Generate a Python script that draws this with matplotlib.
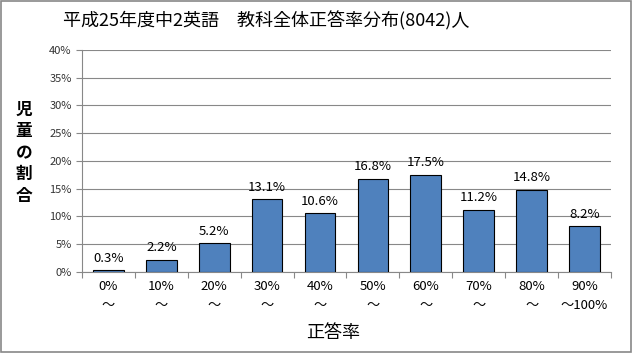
import matplotlib.pyplot as plt
from matplotlib.patches import Rectangle
import numpy as np

plt.rcParams['font.family'] = ['Noto Sans CJK JP', 'DejaVu Sans']

categories = ['0%\n～', '10%\n～', '20%\n～', '30%\n～', '40%\n～',
              '50%\n～', '60%\n～', '70%\n～', '80%\n～', '90%\n～100%']
values = [0.3, 2.2, 5.2, 13.1, 10.6, 16.8, 17.5, 11.2, 14.8, 8.2]
y_ticks = [0, 5, 10, 15, 20, 25, 30, 35, 40]
title = '平成25年度中2英語　教科全体正答率分布(8042)人'


def main():
    fig = plt.figure(figsize=(6.33, 3.53), dpi=100)
    axes = fig.add_axes([0.1295, 0.2295, 0.8357, 0.629])

    x = np.arange(len(values))
    axes.bar(x, values, width=0.58, color='#4F81BD', edgecolor='black', linewidth=0.8, zorder=3)
    for xi, v in zip(x, values):
        axes.text(xi, v + 1.0, f'{v:.1f}%', ha='center', va='bottom', fontsize=9.5, color='black')

    axes.set_xlim(-0.5, len(values) - 0.5)
    axes.set_ylim(0, 40)
    axes.set_yticks(y_ticks)
    axes.set_yticklabels([f'{t}%' for t in y_ticks], fontsize=8, color='#333333')
    axes.yaxis.grid(True, color='#888888', linewidth=0.8, zorder=0)
    axes.set_axisbelow(True)

    axes.set_xticks(np.arange(-0.5, len(values), 1.0), minor=False)
    axes.set_xticklabels([])
    axes.set_xticks(x, minor=True)
    axes.set_xticklabels(categories, minor=True, fontsize=9.5, linespacing=1.6)
    axes.tick_params(axis='x', which='minor', length=0, pad=6)
    axes.tick_params(axis='x', which='major', length=4, color='#888888')
    axes.tick_params(axis='y', length=4, color='#888888')

    for side in ['top', 'right']:
        axes.spines[side].set_visible(False)
    axes.spines['left'].set_color('#888888')
    axes.spines['bottom'].set_color('#888888')

    fig.text(0.42, 0.94, title, ha='center', va='center', fontsize=13)
    fig.text(0.038, 0.567, '児\n童\nの\n割\n合', ha='center', va='center',
             fontsize=12, fontweight='bold', linespacing=1.25)
    fig.text(0.527, 0.058, '正答率', ha='center', va='center', fontsize=13)

    border = Rectangle((0.002, 0.003), 0.995, 0.993, transform=fig.transFigure,
                       fill=False, edgecolor='#888888', linewidth=1.2)
    fig.patches.append(border)

    fig.savefig('out.png', dpi=100)


if __name__ == '__main__':
    main()
